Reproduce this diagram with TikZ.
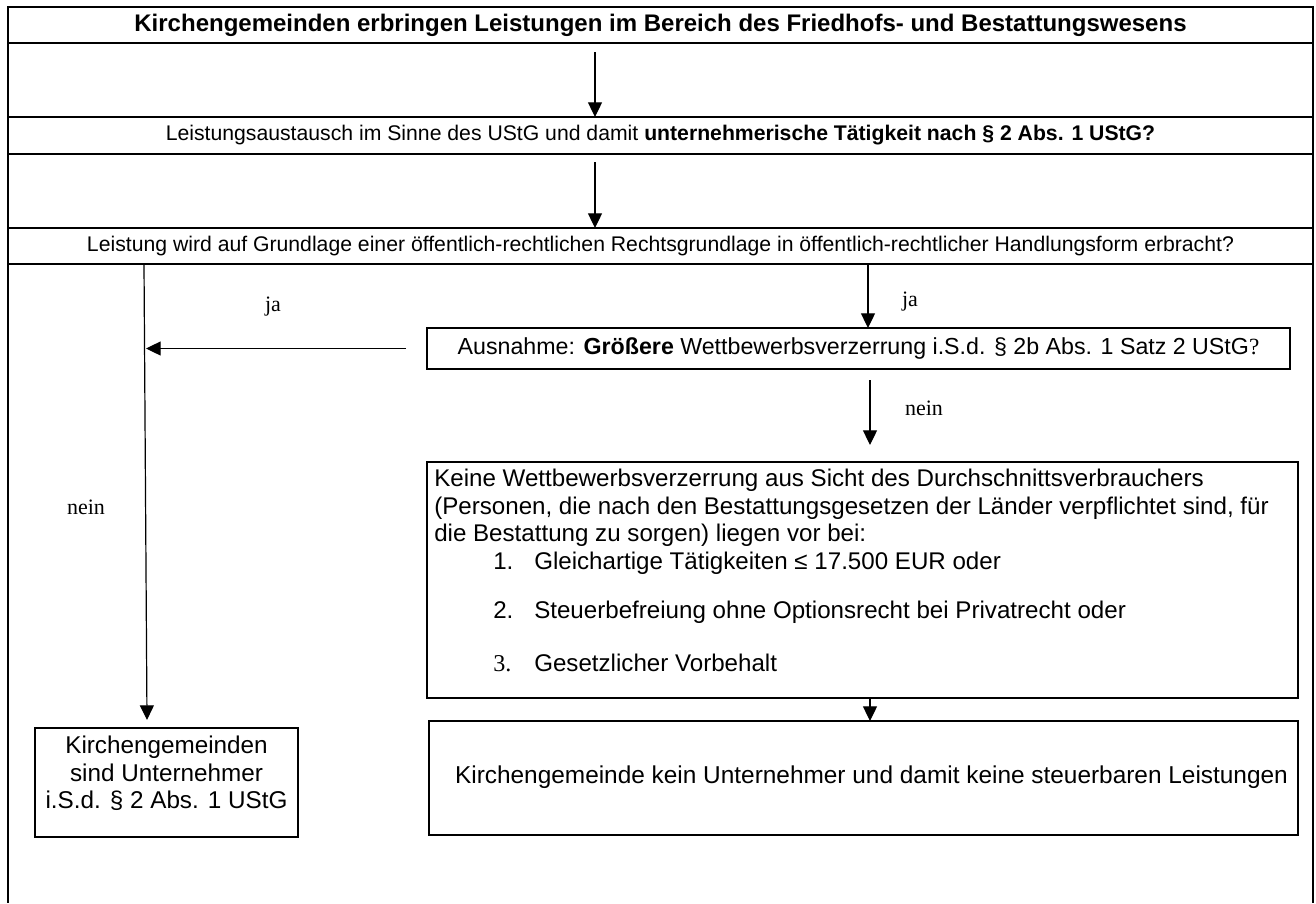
\documentclass[tikz,border=0pt]{standalone}
\usepackage{fontspec}
\setmainfont{Liberation Sans}
\newfontfamily\timesfont{Liberation Serif}
\usetikzlibrary{arrows.meta,calc,positioning}

\tikzset{
  frame/.style={line width=1.8pt},
  box/.style={draw, line width=1.8pt, inner sep=0pt, outer sep=0pt, align=center},
  rowtext/.style={font=\fontsize{15.9}{18}\selectfont},
  arr/.style={line width=0.9pt, -{Triangle[length=11pt,width=10.5pt]}},
  lbl/.style={font=\timesfont\fontsize{16.5}{19}\selectfont, inner sep=0pt},
}

\begin{document}
\begin{tikzpicture}[x=0.75pt,y=0.75pt,yscale=-1,xscale=1]
\useasboundingbox (0,0) rectangle (1316,903);

%Straight Lines: outer frame
\draw[frame] (8,7) -- (8,903);
\draw[frame] (1313,7) -- (1313,903);

%Shape: Rectangle rows
\node[box, font=\fontsize{18}{20}\selectfont, minimum width=978.75pt, minimum height=27pt] (title) at (660.5,25)
  {\textbf{Kirchengemeinden erbringen Leistungen im Bereich des Friedhofs- und Bestattungswesens}};
\node[box, rowtext, minimum width=978.75pt, minimum height=27.75pt] (tausch) at (660.5,135.5)
  {Leistungsaustausch im Sinne des UStG und damit \textbf{unternehmerische Tätigkeit nach § 2 Abs. 1 UStG?}};
\node[box, rowtext, minimum width=978.75pt, minimum height=27pt] (grundlage) at (660.5,246)
  {Leistung wird auf Grundlage einer öffentlich-rechtlichen Rechtsgrundlage in öffentlich-rechtlicher Handlungsform erbracht?};

%Shape: Rectangle boxes
\node[box, font=\fontsize{17.4}{20}\selectfont, minimum width=647.25pt, minimum height=30.75pt] (ausnahme) at (858.5,348.5)
  {Ausnahme: \textbf{Größere} Wettbewerbsverzerrung i.S.d. § 2b Abs. 1 Satz 2 UStG{\timesfont ?}};
\node[box, minimum width=653.25pt, minimum height=177pt] (keine) at (862.5,580) {};
\node[box, minimum width=197.25pt, minimum height=81.75pt] (unter) at (166.5,782.5) {};
\node[box, font=\fontsize{18.3}{21}\selectfont, minimum width=651.75pt, minimum height=85.5pt] (steuer) at (863.5,778)
  {\hspace*{12pt}\raisebox{4.5pt}{Kirchengemeinde kein Unternehmer und damit keine steuerbaren Leistungen}};

% Text Node
\node[font=\fontsize{18.1}{20.6}\selectfont, anchor=north west, inner sep=0pt, align=left] (keinetext) at ($(keine.north west)+(7,7)$)
  {Keine Wettbewerbsverzerrung aus Sicht des Durchschnittsverbrauchers\\
   (Personen, die nach den Bestattungsgesetzen der Länder verpflichtet sind, für\\
   die Bestattung zu sorgen) liegen vor bei:\\
   \hspace*{44.25pt}\makebox[30.75pt][l]{1.}Gleichartige Tätigkeiten ≤ 17.500 EUR oder\\[16.5pt]
   \hspace*{44.25pt}\makebox[30.75pt][l]{2.}Steuerbefreiung ohne Optionsrecht bei Privatrecht oder\\[19pt]
   \hspace*{44.25pt}\makebox[30.75pt][l]{\timesfont 3.}Gesetzlicher Vorbehalt};
% Text Node
\node[anchor=north, inner sep=0pt, align=center, font=\fontsize{18.2}{20.5}\selectfont] (untertext) at ($(unter.north)+(0,8)$)
  {Kirchengemeinden\\ sind Unternehmer\\ i.S.d. § 2 Abs. 1 UStG};

%Straight Lines: connectors
\coordinate (a1) at (595,52);
\coordinate (a2) at (595,162);
\coordinate (jr) at (868,264);
\coordinate (lt) at (144,264);
\coordinate (lb) at (147,720);
\coordinate (hs) at (406,348.5);
\coordinate (hl) at (146,348.5);
\coordinate (ns) at (870,380);
\coordinate (ne) at (870,445);
\coordinate (bs) at (870,698);

\draw[arr] (a1) -- (a1 |- tausch.north);
\draw[arr] (a2) -- (a2 |- grundlage.north);
\draw[arr] (jr) -- (jr |- ausnahme.north);
\draw[arr] (lt) -- (lb);
\draw[arr] (hs) -- (hl);
\draw[arr] (ns) -- (ne);
\draw[arr] (bs) -- (bs |- steuer.north);

% Text Node labels
\node[lbl] (ja1) at (273,307) {ja};
\node[lbl] (ja2) at (910,302) {ja};
\node[lbl] (nein1) at (924,408) {nein};
\node[lbl] (nein2) at (86,507) {nein};

\end{tikzpicture}
\end{document}
